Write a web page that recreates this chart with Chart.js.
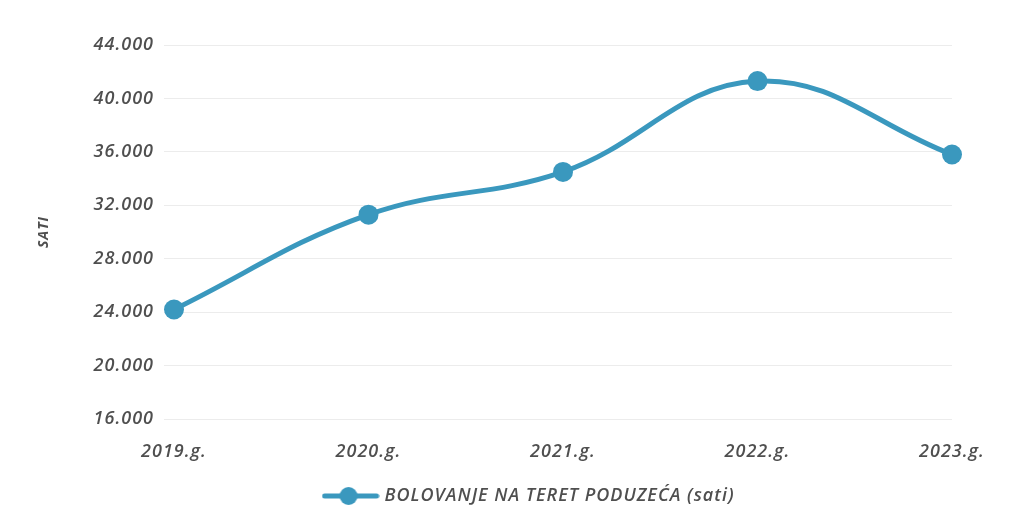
<!DOCTYPE html>
<html>
<head>
<meta charset="utf-8">
<script src="https://cdn.jsdelivr.net/npm/chart.js@4"></script>
<style>
  html, body { margin: 0; padding: 0; background: #fff; }
  #wrap { width: 1028px; height: 529px; }
</style>
</head>
<body>
<div id="wrap"><canvas id="chart" width="1028" height="529"></canvas></div>
<script>
// data
const years = ['2019.g.', '2020.g.', '2021.g.', '2022.g.', '2023.g.'];
const sickHours = [24200, 31300, 34500, 41300, 35800];
const seriesName = 'BOLOVANJE NA TERET PODUZEĆA (sati)';
const yTitle = 'SATI';

const lineColor = '#3a98be';
const textColor = '#4f4f4f';
const fontFam = "'Open Sans', sans-serif";

// legend marker: short line with a dot in the middle
function legendMarker() {
    const c = document.createElement('canvas');
    c.width = 58; c.height = 22;
    const g = c.getContext('2d');
    g.strokeStyle = lineColor;
    g.lineWidth = 5;
    g.lineCap = 'round';
    g.beginPath(); g.moveTo(3, 11); g.lineTo(55, 11); g.stroke();
    g.fillStyle = lineColor;
    g.beginPath(); g.arc(27, 11, 9, 0, Math.PI * 2); g.fill();
    return c;
}
const marker = legendMarker();

// thousands with a dot, like 44.000
const fmt = v => v.toLocaleString('de-DE');

// the scanned text is a bit wide, add some spacing between letters
const spacing = {
    id: 'spacing',
    beforeUpdate: chart => { chart.ctx.letterSpacing = '1px'; },
    beforeDraw: chart => { chart.ctx.letterSpacing = '1px'; }
};

const tickFont = { family: fontFam, size: 18, style: 'italic', weight: '600' };

new Chart(document.getElementById('chart'), {
    type: 'line',
    data: {
        labels: years,
        datasets: [{
            label: seriesName,
            data: sickHours,
            borderColor: lineColor,
            backgroundColor: lineColor,
            borderWidth: 5,
            tension: 0.4,
            pointRadius: 10,
            pointHoverRadius: 10,
            pointBorderWidth: 0
        }]
    },
    options: {
        responsive: false,
        animation: false,
        layout: { padding: { top: 45, left: 32, right: 0, bottom: 14 } },
        scales: {
            x: {
                grid: { display: false },
                border: { display: false },
                ticks: { color: textColor, padding: 14, font: tickFont },
                afterFit: axis => { axis.height = 58; }
            },
            y: {
                min: 16000,
                max: 44000,
                grid: { color: '#ececec', lineWidth: 1, tickLength: 10 },
                border: { display: false },
                ticks: {
                    stepSize: 4000,
                    color: textColor,
                    padding: 10,
                    callback: v => fmt(v),
                    font: tickFont
                },
                title: {
                    display: true,
                    text: yTitle,
                    color: textColor,
                    font: { family: fontFam, size: 14, style: 'italic', weight: 'bold' }
                },
                afterFit: axis => { axis.width = 142; }
            },
            // empty spacer on the right so the plot ends where the original does
            yRight: {
                position: 'right',
                grid: { display: false },
                border: { display: false },
                ticks: { display: false },
                afterFit: axis => { axis.width = 76; }
            }
        },
        plugins: {
            tooltip: { enabled: false },
            legend: {
                position: 'bottom',
                labels: {
                    usePointStyle: true,
                    pointStyleWidth: 50,
                    color: textColor,
                    padding: 10,
                    font: { family: fontFam, size: 18, style: 'italic', weight: '600' },
                    generateLabels: chart => {
                        const items = Chart.defaults.plugins.legend.labels.generateLabels(chart);
                        items.forEach(it => { it.pointStyle = marker; });
                        return items;
                    }
                }
            }
        }
    },
    plugins: [spacing]
});
</script>
</body>
</html>
